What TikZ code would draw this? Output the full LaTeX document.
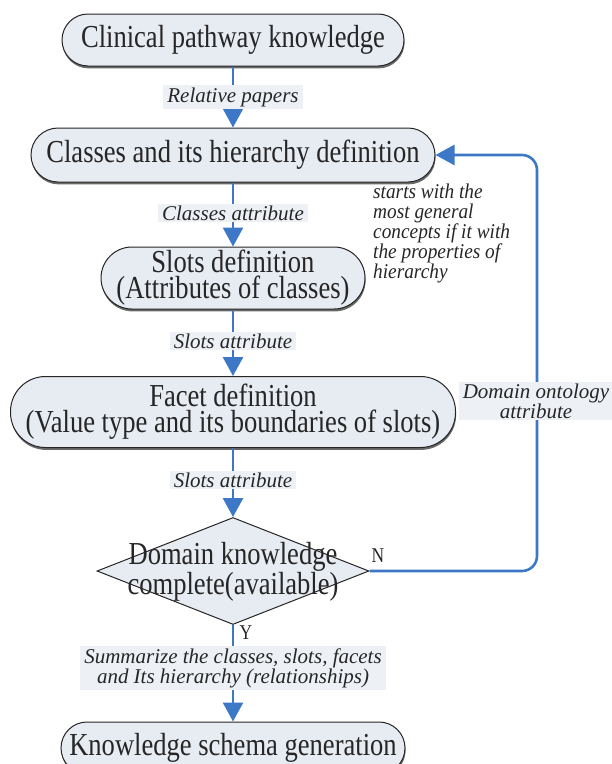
\documentclass[tikz,border=0pt]{standalone}
\usepackage{fontspec}
\setmainfont{Liberation Serif}
\newfontfamily\boxfont[FakeStretch=0.83]{Liberation Serif}
\newfontfamily\notefont[FakeStretch=0.92]{Liberation Serif}
\usetikzlibrary{arrows.meta,shapes.geometric,shadows}
\definecolor{flowblue}{HTML}{3C78C6}
\definecolor{boxfill}{HTML}{E7EBF2}
\definecolor{labfill}{HTML}{EDF0F5}
\definecolor{ink}{HTML}{262626}
\begin{document}
\begin{tikzpicture}[x=1pt,y=-1pt,
  stage/.style={draw=ink, line width=1pt, fill=boxfill, inner sep=0pt, align=center, text=ink,
    font=\boxfont\fontsize{32}{26}\selectfont,
    drop shadow={shadow xshift=0.6pt, shadow yshift=-2.4pt, fill=black!65, opacity=0.9}},
  decision/.style={diamond, draw=ink, line width=1pt, fill=boxfill, inner sep=0pt},
  bigtext/.style={text=ink, align=center, inner sep=0pt, font=\boxfont\fontsize{32}{24}\selectfont},
  yn/.style={text=ink, inner sep=0pt, font=\boxfont\fontsize{21}{21}\selectfont},
  flow/.style={draw=flowblue, line width=2.6pt, -{Triangle[length=19pt,width=20pt]}},
  lab/.style={fill=labfill, inner xsep=4pt, inner ysep=2pt, text=ink, align=center,
    font=\itshape\fontsize{21}{18}\selectfont},
  note/.style={text=ink, inner sep=0pt, align=left, font=\notefont\itshape\fontsize{21}{20}\selectfont}
]
\useasboundingbox (0,0) rectangle (612,764);
\fill[white] (0,0) rectangle (612,764);

% process stages
\node[stage, minimum width=342pt, minimum height=52pt, rounded corners=26pt] (n1) at (233,40) {Clinical pathway knowledge};
\node[stage, minimum width=404pt, minimum height=54pt, rounded corners=27pt] (n2) at (233,155) {Classes and its hierarchy definition};
\node[stage, minimum width=264pt, minimum height=62pt, rounded corners=31pt] (n3) at (233,278) {Slots definition\\(Attributes of classes)};
\node[stage, minimum width=445pt, minimum height=71pt, rounded corners=35pt] (n4) at (233,412) {Facet definition\\(Value type and its boundaries of slots)};
\node[decision, minimum width=272pt, minimum height=107pt] (dia) at (233,571) {};
\node[bigtext] (diatext) at (233,572) {Domain knowledge\\complete(available)};
\node[stage, minimum width=344pt, minimum height=52pt, rounded corners=26pt] (n6) at (233,748) {Knowledge schema generation};

% main flow
\draw[flow] (n1) -- (n2);
\draw[flow] (n2) -- (n3);
\draw[flow] (n3) -- (n4);
\draw[flow] (n4) -- (dia);
\draw[flow] (dia) -- (n6);

% feedback loop back to the class definition
\coordinate (fbb) at (537,571);
\coordinate (fbt) at (537,155);
\draw[flow, rounded corners=15pt] (dia.east) -- (fbb) -- (fbt) -- (n2.east);

% edge labels
\node[lab] (l1) at (233,97) {Relative papers};
\node[lab] (l2) at (233,213) {Classes attribute};
\node[lab] (l3) at (233,341) {Slots attribute};
\node[lab] (l4) at (233,480) {Slots attribute};
\node[lab] (l5) at (233,668) {Summarize the classes, slots, facets\\and Its hierarchy (relationships)};
\node[lab] (l6) at (536,401) {Domain ontology\\attribute};
\node[yn] (nlab) at (378,556) {N};
\node[yn] (ylab) at (246,633) {Y};

% remark on the class hierarchy
\node[note, anchor=north west] (hint) at (373,184) {starts with the\\most general\\concepts if it with\\the properties of\\hierarchy};
\end{tikzpicture}
\end{document}
